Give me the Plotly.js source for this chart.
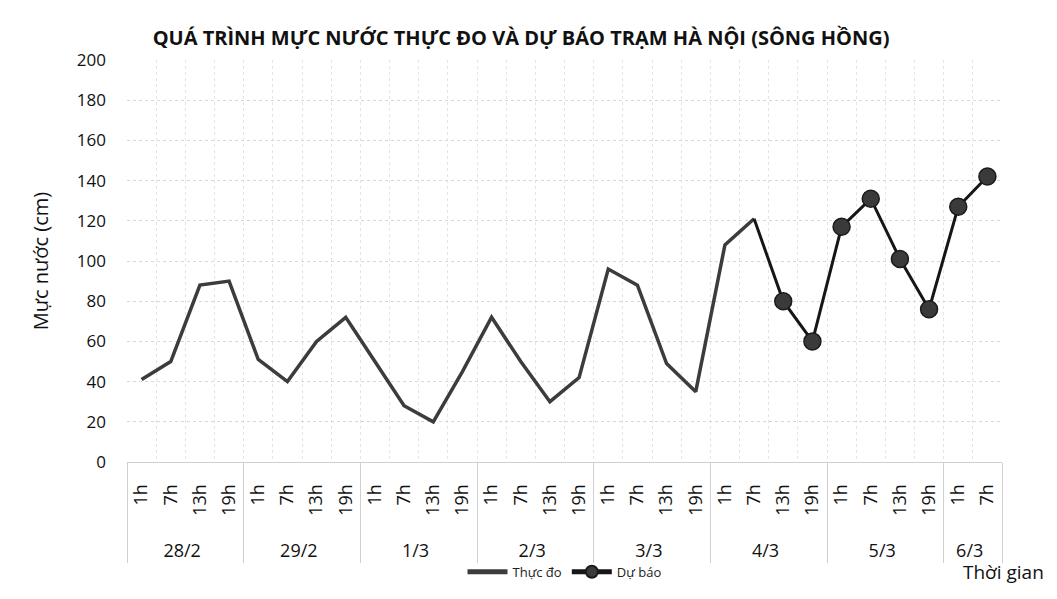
<!DOCTYPE html>
<html>
<head>
<meta charset="utf-8">
<script src="https://cdn.plot.ly/plotly-3.0.1.min.js"></script>
<style>html,body{margin:0;padding:0;background:#fff;}#chart{width:1057px;height:599px;}</style>
</head>
<body>
<div id="chart"></div>
<script>
var days = ["28/2","28/2","28/2","28/2","29/2","29/2","29/2","29/2","1/3","1/3","1/3","1/3","2/3","2/3","2/3","2/3","3/3","3/3","3/3","3/3","4/3","4/3","4/3","4/3","5/3","5/3","5/3","5/3","6/3","6/3"];
var hours = ["1h","7h","13h","19h","1h","7h","13h","19h","1h","7h","13h","19h","1h","7h","13h","19h","1h","7h","13h","19h","1h","7h","13h","19h","1h","7h","13h","19h","1h","7h"];
var observed = [41,50,88,90,51,40,60,72,50,28,20,45,72,50,30,42,96,88,49,35,108,121,null,null,null,null,null,null,null,null];
var forecast = [null,null,null,null,null,null,null,null,null,null,null,null,null,null,null,null,null,null,null,null,null,121,80,60,117,131,101,76,127,142];

var firstFc = forecast.findIndex(function(v){return v!==null;});
var fcSizes = forecast.map(function(v,i){return i===firstFc?0:17;});

var font = "Open Sans, Liberation Sans, sans-serif";
var data = [
  {x:[days,hours], y:observed, type:"scatter", mode:"lines", name:"Thực đo",
   line:{color:"#3c3c3c", width:3.5}, connectgaps:false},
  {x:[days,hours], y:forecast, type:"scatter", mode:"lines+markers", name:"Dự báo",
   line:{color:"#161616", width:3}, opacity:1,
   marker:{size:fcSizes, color:"#3a3a3a", opacity:1, line:{color:"#1a1a1a", width:1.5}}}
];
var layout = {
  width:1057, height:599,
  margin:{l:127, r:55, t:60, b:133},
  paper_bgcolor:"#ffffff", plot_bgcolor:"#ffffff",
  font:{family:font, color:"#111"},
  title:{text:"<b>QUÁ TRÌNH MỰC NƯỚC THỰC ĐO VÀ DỰ BÁO TRẠM HÀ NỘI (SÔNG HỒNG)</b>",
         font:{size:20, color:"#111", family:font}, x:0.493, xanchor:"center", y:0.937, yanchor:"middle"},
  xaxis:{type:"multicategory", range:[-0.5,29.5], autorange:false, tickangle:-90, tickfont:{size:18, color:"#111"},
         ticklabelstandoff:14, tickprefix:"\u2003\u2009",
         showgrid:true, gridcolor:"#e4e4e4", griddash:"dot", gridwidth:1,
         showline:true, linecolor:"#cfcfcf", showdividers:true, dividercolor:"#cfcfcf", dividerwidth:1,
         ticks:"", zeroline:false},
  yaxis:{range:[0,200], dtick:20, tickfont:{size:17, color:"#111"},
         showgrid:true, gridcolor:"#d8d8d8", griddash:"dot", gridwidth:1, zeroline:false,
         showline:false, ticks:"", ticklabelstandoff:20,
         title:{text:"Mực nước (cm)", font:{size:20, color:"#111"}, standoff:22}},
  showlegend:true,
  legend:{orientation:"h", x:0.5, xanchor:"center", y:-0.273, yanchor:"middle", itemsizing:"constant",
          font:{size:13, color:"#222"}, bgcolor:"rgba(0,0,0,0)", itemwidth:40},
  annotations:[{text:"Thời gian", xref:"paper", yref:"paper", x:1.05, y:-0.273, xanchor:"right", yanchor:"middle",
                showarrow:false, font:{size:19, color:"#111"}}]
};
Plotly.newPlot("chart", data, layout, {staticPlot:true});
</script>
</body>
</html>
